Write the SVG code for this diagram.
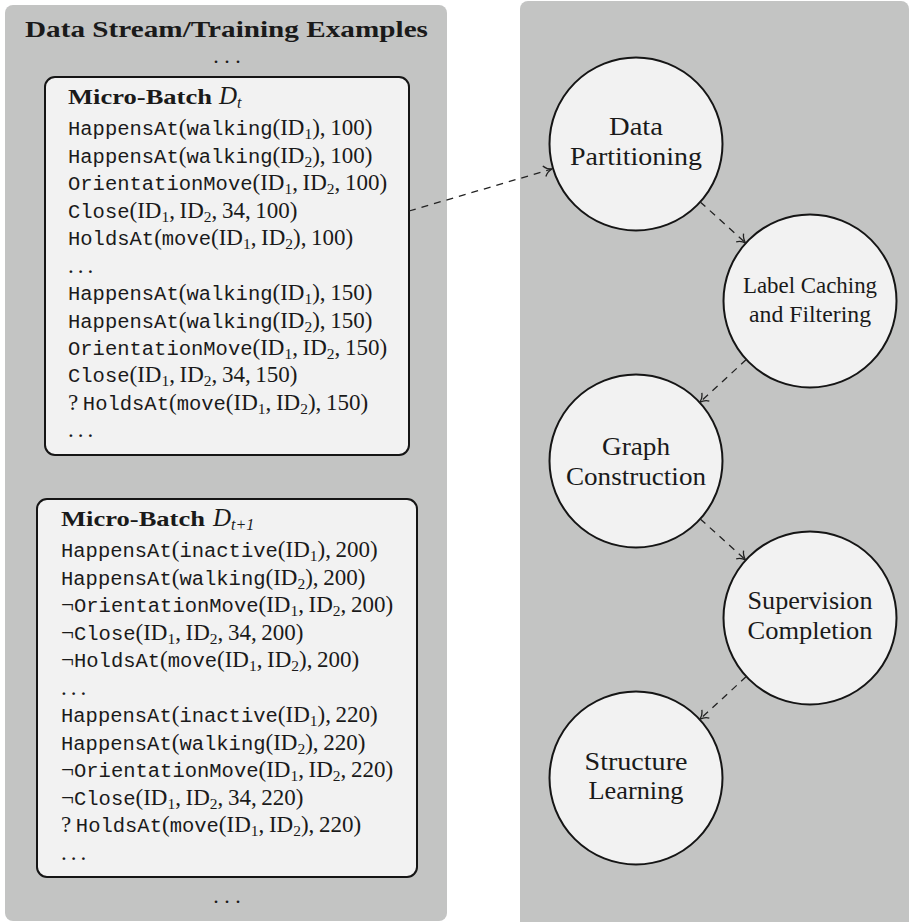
<svg xmlns="http://www.w3.org/2000/svg" width="910" height="922" viewBox="0 0 910 922">
<style>
.panel{fill:#c3c4c3}
.box{fill:#f2f2f2;stroke:#151515;stroke-width:2}
.node{fill:#f2f2f2;stroke:#151515;stroke-width:2}
.ln{font-family:"Liberation Serif",serif;font-size:23px;fill:#1a1a1a}
.t{font-family:"Liberation Mono",monospace;font-size:20.5px}
.s{font-size:15.5px}
.hd{font-family:"Liberation Serif",serif;font-weight:bold;fill:#1a1a1a}
.it{font-family:"Liberation Serif",serif;font-style:italic;fill:#1a1a1a}
.lb{font-family:"Liberation Serif",serif;fill:#1a1a1a;text-anchor:middle}
.dots{font-family:"Liberation Serif",serif;font-size:22px;fill:#1a1a1a;text-anchor:middle}
.edge{fill:none;stroke:#222;stroke-width:1.3;stroke-dasharray:7 6}
</style>
<defs>
<marker id="arr" viewBox="-10 -7 12 14" refX="0" refY="0" markerWidth="12" markerHeight="14" markerUnits="userSpaceOnUse" orient="auto"><path d="M-8,-5.5 C-6,-2.5 -2.5,-0.6 0,0 C-2.5,0.6 -6,2.5 -8,5.5" fill="none" stroke="#222" stroke-width="1.3"/></marker>
</defs>
<rect width="910" height="922" fill="#ffffff"/>
<g id="stream-panel">
<rect class="panel" x="5" y="5" width="442" height="916" rx="8"/>
<text class="hd" x="25" y="37" font-size="23" textLength="403" lengthAdjust="spacingAndGlyphs">Data Stream/Training Examples</text>
<text class="dots" x="227" y="63">. . .</text>
<text class="dots" x="227" y="903">. . .</text>
</g>
<g id="pipeline-panel">
<rect class="panel" x="520" y="1" width="389" height="940" rx="8"/>
</g>
<g id="batch-t">
<rect class="box" x="45" y="77" width="364" height="378" rx="10"/>
<text class="hd" x="68" y="104" font-size="21.5" textLength="144" lengthAdjust="spacingAndGlyphs">Micro-Batch</text>
<text class="it" x="219" y="104" font-size="25">D<tspan font-size="16" dy="4">t</tspan></text>
<text class="ln" x="68" y="135"><tspan class="t">HappensAt</tspan>(<tspan class="t">walking</tspan>(ID<tspan class="s" dy="4">1</tspan><tspan dy="-4">),&#8201;100)</tspan></text>
<text class="ln" x="68" y="162.5"><tspan class="t">HappensAt</tspan>(<tspan class="t">walking</tspan>(ID<tspan class="s" dy="4">2</tspan><tspan dy="-4">),&#8201;100)</tspan></text>
<text class="ln" x="68" y="190"><tspan class="t">OrientationMove</tspan>(ID<tspan class="s" dy="4">1</tspan><tspan dy="-4">,&#8201;ID</tspan><tspan class="s" dy="4">2</tspan><tspan dy="-4">,&#8201;100)</tspan></text>
<text class="ln" x="68" y="217.5"><tspan class="t">Close</tspan>(ID<tspan class="s" dy="4">1</tspan><tspan dy="-4">,&#8201;ID</tspan><tspan class="s" dy="4">2</tspan><tspan dy="-4">,&#8201;34,&#8201;100)</tspan></text>
<text class="ln" x="68" y="245"><tspan class="t">HoldsAt</tspan>(<tspan class="t">move</tspan>(ID<tspan class="s" dy="4">1</tspan><tspan dy="-4">,&#8201;ID</tspan><tspan class="s" dy="4">2</tspan><tspan dy="-4">),&#8201;100)</tspan></text>
<text class="ln" x="68" y="272.5" letter-spacing="4">...</text>
<text class="ln" x="68" y="300"><tspan class="t">HappensAt</tspan>(<tspan class="t">walking</tspan>(ID<tspan class="s" dy="4">1</tspan><tspan dy="-4">),&#8201;150)</tspan></text>
<text class="ln" x="68" y="327.5"><tspan class="t">HappensAt</tspan>(<tspan class="t">walking</tspan>(ID<tspan class="s" dy="4">2</tspan><tspan dy="-4">),&#8201;150)</tspan></text>
<text class="ln" x="68" y="355"><tspan class="t">OrientationMove</tspan>(ID<tspan class="s" dy="4">1</tspan><tspan dy="-4">,&#8201;ID</tspan><tspan class="s" dy="4">2</tspan><tspan dy="-4">,&#8201;150)</tspan></text>
<text class="ln" x="68" y="382"><tspan class="t">Close</tspan>(ID<tspan class="s" dy="4">1</tspan><tspan dy="-4">,&#8201;ID</tspan><tspan class="s" dy="4">2</tspan><tspan dy="-4">,&#8201;34,&#8201;150)</tspan></text>
<text class="ln" x="68" y="409.5">?&#8201;<tspan class="t">HoldsAt</tspan>(<tspan class="t">move</tspan>(ID<tspan class="s" dy="4">1</tspan><tspan dy="-4">,&#8201;ID</tspan><tspan class="s" dy="4">2</tspan><tspan dy="-4">),&#8201;150)</tspan></text>
<text class="ln" x="68" y="437" letter-spacing="4">...</text>
</g>
<g id="batch-t1">
<rect class="box" x="37" y="499" width="380" height="378" rx="10"/>
<text class="hd" x="61" y="526" font-size="21.5" textLength="144" lengthAdjust="spacingAndGlyphs">Micro-Batch</text>
<text class="it" x="213" y="526" font-size="25">D<tspan font-size="16" dy="4">t+1</tspan></text>
<text class="ln" x="61" y="557"><tspan class="t">HappensAt</tspan>(<tspan class="t">inactive</tspan>(ID<tspan class="s" dy="4">1</tspan><tspan dy="-4">),&#8201;200)</tspan></text>
<text class="ln" x="61" y="584.5"><tspan class="t">HappensAt</tspan>(<tspan class="t">walking</tspan>(ID<tspan class="s" dy="4">2</tspan><tspan dy="-4">),&#8201;200)</tspan></text>
<text class="ln" x="61" y="612">¬<tspan class="t">OrientationMove</tspan>(ID<tspan class="s" dy="4">1</tspan><tspan dy="-4">,&#8201;ID</tspan><tspan class="s" dy="4">2</tspan><tspan dy="-4">,&#8201;200)</tspan></text>
<text class="ln" x="61" y="639.5">¬<tspan class="t">Close</tspan>(ID<tspan class="s" dy="4">1</tspan><tspan dy="-4">,&#8201;ID</tspan><tspan class="s" dy="4">2</tspan><tspan dy="-4">,&#8201;34,&#8201;200)</tspan></text>
<text class="ln" x="61" y="667">¬<tspan class="t">HoldsAt</tspan>(<tspan class="t">move</tspan>(ID<tspan class="s" dy="4">1</tspan><tspan dy="-4">,&#8201;ID</tspan><tspan class="s" dy="4">2</tspan><tspan dy="-4">),&#8201;200)</tspan></text>
<text class="ln" x="61" y="694.5" letter-spacing="4">...</text>
<text class="ln" x="61" y="722"><tspan class="t">HappensAt</tspan>(<tspan class="t">inactive</tspan>(ID<tspan class="s" dy="4">1</tspan><tspan dy="-4">),&#8201;220)</tspan></text>
<text class="ln" x="61" y="749.5"><tspan class="t">HappensAt</tspan>(<tspan class="t">walking</tspan>(ID<tspan class="s" dy="4">2</tspan><tspan dy="-4">),&#8201;220)</tspan></text>
<text class="ln" x="61" y="777">¬<tspan class="t">OrientationMove</tspan>(ID<tspan class="s" dy="4">1</tspan><tspan dy="-4">,&#8201;ID</tspan><tspan class="s" dy="4">2</tspan><tspan dy="-4">,&#8201;220)</tspan></text>
<text class="ln" x="61" y="804.5">¬<tspan class="t">Close</tspan>(ID<tspan class="s" dy="4">1</tspan><tspan dy="-4">,&#8201;ID</tspan><tspan class="s" dy="4">2</tspan><tspan dy="-4">,&#8201;34,&#8201;220)</tspan></text>
<text class="ln" x="61" y="832">?&#8201;<tspan class="t">HoldsAt</tspan>(<tspan class="t">move</tspan>(ID<tspan class="s" dy="4">1</tspan><tspan dy="-4">,&#8201;ID</tspan><tspan class="s" dy="4">2</tspan><tspan dy="-4">),&#8201;220)</tspan></text>
<text class="ln" x="61" y="859.5" letter-spacing="4">...</text>
</g>
<g id="data-partitioning">
<circle class="node" cx="636" cy="144" r="86.5"/>
<text class="lb" x="636" y="135" font-size="26" textLength="54" lengthAdjust="spacingAndGlyphs">Data</text>
<text class="lb" x="636" y="165" font-size="26" textLength="132" lengthAdjust="spacingAndGlyphs">Partitioning</text>
</g>
<g id="label-caching">
<circle class="node" cx="810" cy="301" r="86.5"/>
<text class="lb" x="810" y="293" font-size="22.5" textLength="134" lengthAdjust="spacingAndGlyphs">Label Caching</text>
<text class="lb" x="810" y="322" font-size="22.5" textLength="122" lengthAdjust="spacingAndGlyphs">and Filtering</text>
</g>
<g id="graph-construction">
<circle class="node" cx="636" cy="461" r="86.5"/>
<text class="lb" x="636" y="455" font-size="26" textLength="68" lengthAdjust="spacingAndGlyphs">Graph</text>
<text class="lb" x="636" y="485" font-size="26" textLength="140" lengthAdjust="spacingAndGlyphs">Construction</text>
</g>
<g id="supervision-completion">
<circle class="node" cx="810" cy="618" r="86.5"/>
<text class="lb" x="810" y="609" font-size="26" textLength="125" lengthAdjust="spacingAndGlyphs">Supervision</text>
<text class="lb" x="810" y="639" font-size="26" textLength="125" lengthAdjust="spacingAndGlyphs">Completion</text>
</g>
<g id="structure-learning">
<circle class="node" cx="636" cy="778" r="86.5"/>
<text class="lb" x="636" y="770" font-size="26" textLength="103" lengthAdjust="spacingAndGlyphs">Structure</text>
<text class="lb" x="636" y="799" font-size="26" textLength="95" lengthAdjust="spacingAndGlyphs">Learning</text>
</g>
<g id="connectors">
<path class="edge" d="M409,211 L552,169" marker-end="url(#arr)"/>
<path class="edge" d="M700.2,201.9 L745.8,243.1" marker-end="url(#arr)"/>
<path class="edge" d="M746.3,359.6 L699.7,402.4" marker-end="url(#arr)"/>
<path class="edge" d="M700.2,518.9 L745.8,560.1" marker-end="url(#arr)"/>
<path class="edge" d="M746.3,676.6 L699.7,719.4" marker-end="url(#arr)"/>
</g>
</svg>
